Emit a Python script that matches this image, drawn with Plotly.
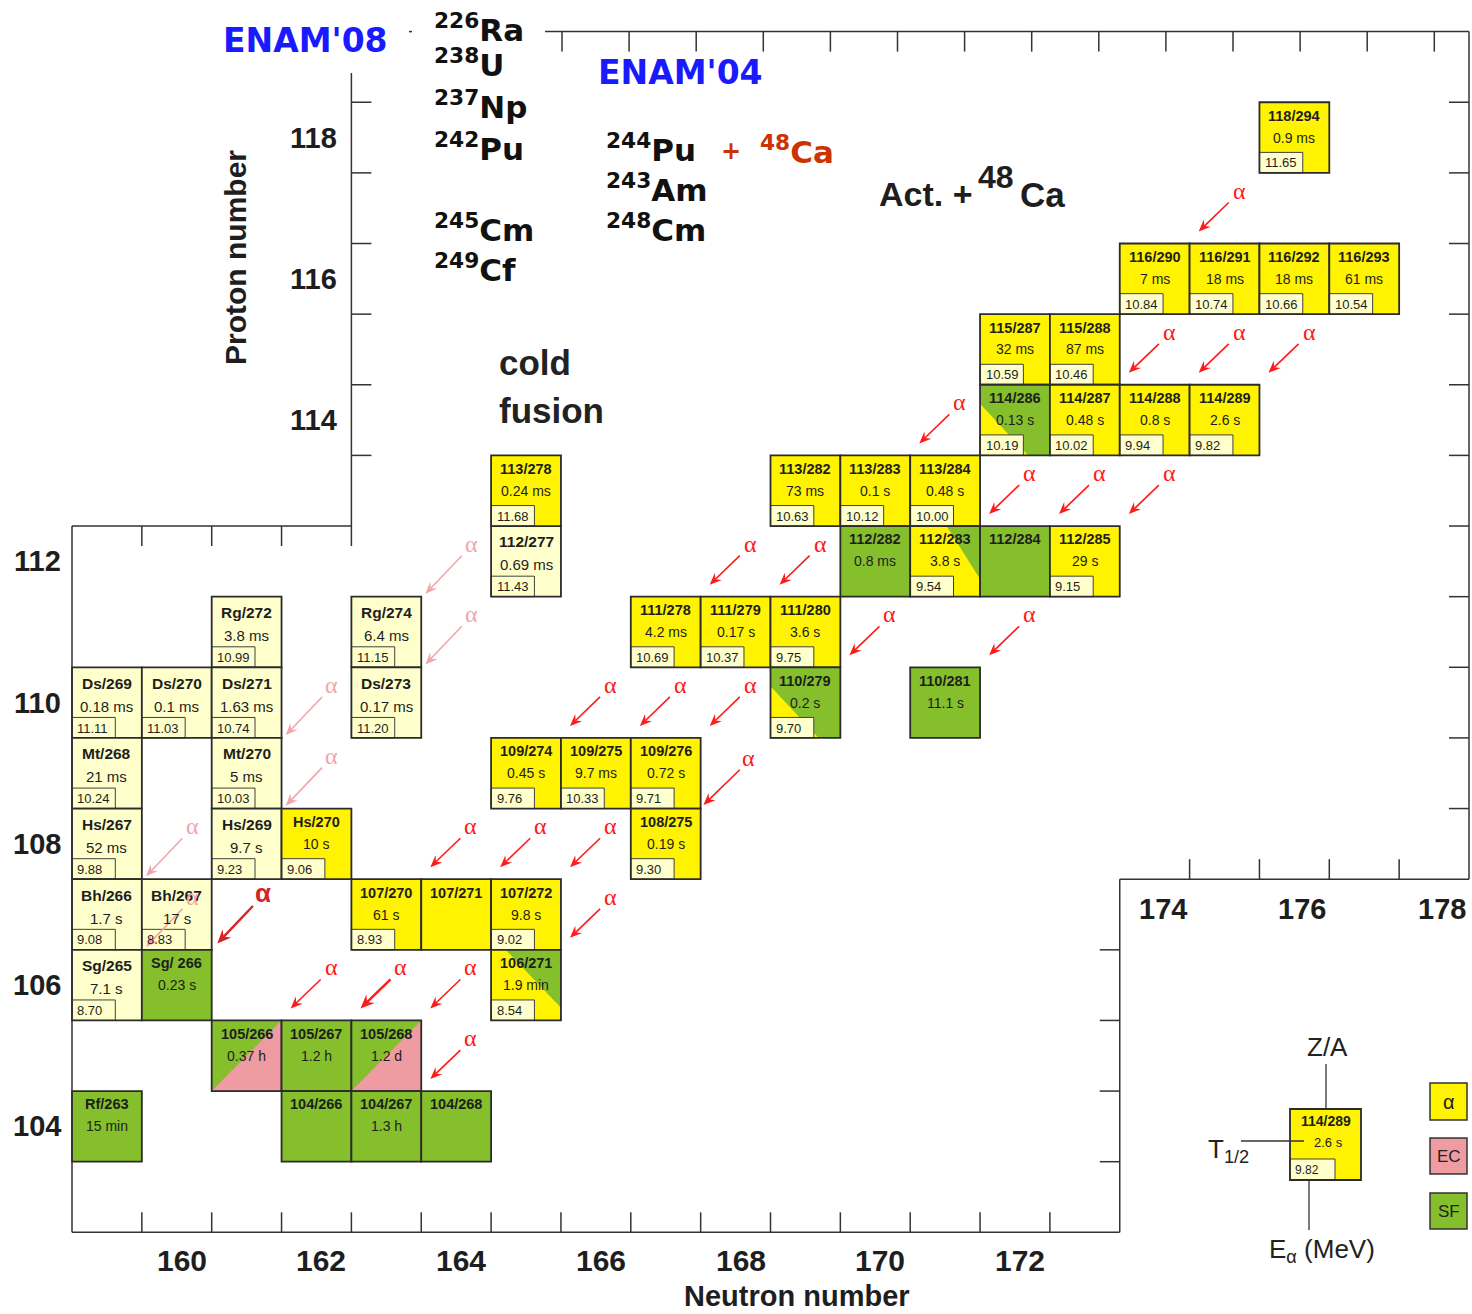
import math
import plotly.graph_objects as go

# ---------------- nuclide cells ----------------
cell_label = [
    "Rg/272", "Rg/274", "Ds/269", "Ds/270", "Ds/271", "Ds/273", "Mt/268", "Mt/270",
    "Hs/267", "Hs/269", "Hs/270", "Bh/266", "Bh/267", "Sg/265", "Sg/ 266", "Rf/263",
    "112/277", "113/278",
    "118/294", "116/290", "116/291", "116/292", "116/293", "115/287", "115/288",
    "114/286", "114/287", "114/288", "114/289", "113/282", "113/283", "113/284",
    "112/282", "112/283", "112/284", "112/285", "111/278", "111/279", "111/280",
    "110/279", "110/281", "109/274", "109/275", "109/276", "108/275",
    "107/270", "107/271", "107/272", "106/271", "105/266", "105/267", "105/268",
    "104/266", "104/267", "104/268",
]
cell_z = [
    111, 111, 110, 110, 110, 110, 109, 109,
    108, 108, 108, 107, 107, 106, 106, 104,
    112, 113,
    118, 116, 116, 116, 116, 115, 115,
    114, 114, 114, 114, 113, 113, 113,
    112, 112, 112, 112, 111, 111, 111,
    110, 110, 109, 109, 109, 108,
    107, 107, 107, 106, 105, 105, 105,
    104, 104, 104,
]
cell_a = [
    272, 274, 269, 270, 271, 273, 268, 270,
    267, 269, 270, 266, 267, 265, 266, 263,
    277, 278,
    294, 290, 291, 292, 293, 287, 288,
    286, 287, 288, 289, 282, 283, 284,
    282, 283, 284, 285, 278, 279, 280,
    279, 281, 274, 275, 276, 275,
    270, 271, 272, 271, 266, 267, 268,
    266, 267, 268,
]
cell_halflife = [
    "3.8 ms", "6.4 ms", "0.18 ms", "0.1 ms", "1.63 ms", "0.17 ms", "21 ms", "5 ms",
    "52 ms", "9.7 s", "10 s", "1.7 s", "17 s", "7.1 s", "0.23 s", "15 min",
    "0.69 ms", "0.24 ms",
    "0.9 ms", "7 ms", "18 ms", "18 ms", "61 ms", "32 ms", "87 ms",
    "0.13 s", "0.48 s", "0.8 s", "2.6 s", "73 ms", "0.1 s", "0.48 s",
    "0.8 ms", "3.8 s", "", "29 s", "4.2 ms", "0.17 s", "3.6 s",
    "0.2 s", "11.1 s", "0.45 s", "9.7 ms", "0.72 s", "0.19 s",
    "61 s", "", "9.8 s", "1.9 min", "0.37 h", "1.2 h", "1.2 d",
    "", "1.3 h", "",
]
cell_ealpha = [
    "10.99", "11.15", "11.11", "11.03", "10.74", "11.20", "10.24", "10.03",
    "9.88", "9.23", "9.06", "9.08", "8.83", "8.70", "", "",
    "11.43", "11.68",
    "11.65", "10.84", "10.74", "10.66", "10.54", "10.59", "10.46",
    "10.19", "10.02", "9.94", "9.82", "10.63", "10.12", "10.00",
    "", "9.54", "", "9.15", "10.69", "10.37", "9.75",
    "9.70", "", "9.76", "10.33", "9.71", "9.30",
    "8.93", "", "9.02", "8.54", "", "", "",
    "", "", "",
]
# decay mode: cf = cold-fusion alpha emitter, a = alpha, sf = fission,
# sf_a / a_sf / a_sf2 = mixed alpha+SF, sf_ec = SF + electron capture
cell_mode = [
    "cf", "cf", "cf", "cf", "cf", "cf", "cf", "cf",
    "cf", "cf", "a", "cf", "cf", "cf", "sf", "sf",
    "cf", "a",
    "a", "a", "a", "a", "a", "a", "a",
    "sf_a", "a", "a", "a", "a", "a", "a",
    "sf", "a_sf", "sf", "a", "a", "a", "a",
    "sf_a", "sf", "a", "a", "a", "a",
    "a", "a", "a", "a_sf2", "sf_ec", "sf", "sf_ec",
    "sf", "sf", "sf",
]

# ---------------- alpha-decay arrows (cell they sit in) ----------------
arrow_n = [175, 174, 175, 176, 171, 172, 173, 174, 168, 169, 170, 172, 166, 167, 168,
           168, 164, 165, 166, 161, 166, 162, 163, 164, 164,
           164, 164, 162, 162, 160, 160]
arrow_z = [117, 115, 115, 115, 114, 113, 113, 113, 112, 112, 111, 111, 110, 110, 110,
           109, 108, 108, 108, 107, 107, 106, 106, 106, 105,
           112, 111, 110, 109, 108, 107]
arrow_kind = ["r"] * 15 + ["rl", "r", "r", "r", "rb", "r", "r", "rt", "r", "r"] + ["p"] * 6

# ---------------- axis tick labels ----------------
n_labels_low = [160, 162, 164, 166, 168, 170, 172]
n_labels_high = [174, 176, 178]
z_labels_low = [104, 106, 108, 110, 112]
z_labels_high = [114, 116, 118]

# ---------------- styling ----------------
W, H = 1472, 1314
SX, SY = 69.85, 70.63           # pixels per unit of N and Z
X0 = 158.5 - 72 / SX
X1 = X0 + W / SX
Y1 = 103.5 + 1161.7 / SY
Y0 = Y1 - H / SY

YELLOW = "#FFF300"
PALE = "#FFFFCC"
GREEN = "#85BF2B"
PINK = "#EE9CA1"
EDGE = "#2B2B2B"
INK = "#1E1E1E"
RED = "#FF1A1A"
ARIAL = "Liberation Sans, Arial, sans-serif"
COMIC = "DejaVu Sans, Verdana, sans-serif"
SERIF = "Liberation Serif, Times New Roman, serif"


def nx(px):
    return X0 + px / SX


def zy(py):
    return Y1 - py / SY


shapes = []
ann = []


def rect(x0, y0, x1, y1, fill=None, lc=EDGE, lw=1.8):
    shapes.append(dict(type="rect", xref="x", yref="y", x0=x0, y0=y0, x1=x1, y1=y1,
                       fillcolor=fill if fill else "rgba(0,0,0,0)",
                       line=dict(color=lc, width=lw), layer="above"))


def poly(pts, fill):
    d = "M " + " L ".join(f"{x},{y}" for x, y in pts) + " Z"
    shapes.append(dict(type="path", xref="x", yref="y", path=d, fillcolor=fill,
                       line=dict(width=0), layer="above"))


def seg(x0, y0, x1, y1, color="#333333", w=1.5):
    shapes.append(dict(type="line", xref="x", yref="y", x0=x0, y0=y0, x1=x1, y1=y1,
                       line=dict(color=color, width=w), layer="above"))


def arrow(tx, ty, hx, hy, color, w, head_len=12.0, head_half=5.0):
    # work in pixel units so the head keeps its shape, then map back to N/Z
    dx, dy = (hx - tx) * SX, (hy - ty) * SY
    length = math.hypot(dx, dy)
    ux, uy = dx / length, dy / length
    px_, py_ = -uy, ux
    bx, by = hx * SX - head_len * ux, hy * SY - head_len * uy
    nxp, nyp = bx + 0.35 * head_len * ux, by + 0.35 * head_len * uy
    pts = [(hx, hy),
           ((bx + head_half * px_) / SX, (by + head_half * py_) / SY),
           (nxp / SX, nyp / SY),
           ((bx - head_half * px_) / SX, (by - head_half * py_) / SY)]
    seg(tx, ty, nxp / SX, nyp / SY, color=color, w=w)
    poly(pts, color)


def text(x, y, s, size, color=INK, family=ARIAL, xanchor="center", yanchor="middle",
         xshift=0, yshift=0, angle=0):
    ann.append(dict(x=x, y=y, xref="x", yref="y", text=s,
                    showarrow=False, xanchor=xanchor, yanchor=yanchor,
                    font=dict(size=size, color=color, family=family),
                    xshift=xshift, yshift=yshift, textangle=angle))


def ptext(px, py, s, size, color=INK, family=ARIAL, xanchor="center", angle=0):
    ann.append(dict(x=px / W, y=1 - py / H, xref="paper", yref="paper", text=s,
                    showarrow=False, xanchor=xanchor, yanchor="middle",
                    font=dict(size=size, color=color, family=family), textangle=angle))


def draw_cell(n, z, label, t, ea, mode):
    base = {"cf": PALE, "a": YELLOW, "sf": GREEN, "sf_a": GREEN,
            "a_sf": YELLOW, "a_sf2": YELLOW, "sf_ec": GREEN}[mode]
    l, r, b, tp = n - 0.5, n + 0.5, z - 0.5, z + 0.5
    rect(l, b, r, tp, fill=base, lw=0)
    if mode == "sf_a":
        poly([(l, b), (l, z + 0.23), (n + 0.19, b)], YELLOW)
    elif mode == "a_sf":
        poly([(n + 0.02, tp), (r, tp), (r, z - 0.25)], GREEN)
    elif mode == "a_sf2":
        poly([(n - 0.29, tp), (r, tp), (r, z - 0.32)], GREEN)
    elif mode == "sf_ec":
        poly([(l, b), (r, b), (r, tp)], PINK)
    if ea:
        rect(l, b, l + 0.62, b + 0.29, fill=PALE, lc="#404040", lw=1)
        text(l + 0.05, b + 0.14, ea, 13, xanchor="left")
    rect(l, b, r, tp, lw=1.8)
    pale = mode == "cf"
    text(n, tp - (0.225 if pale else 0.19), f"<b>{label}</b>", 15.5 if pale else 14.5)
    if t:
        text(n, tp - (0.55 if pale else 0.5), t, 15 if pale else 14)


for lab, z, a, t, ea, m in zip(cell_label, cell_z, cell_a, cell_halflife, cell_ealpha, cell_mode):
    draw_cell(a - z, z, lab, t, ea, m)

# ---------------- alpha arrows ----------------
arrow_style = {
    "r": dict(c=RED, w=1.6, tail=(0.06, 0.08), head=(-0.37, -0.33), lab=(0.21, 0.25), fs=24, fam=SERIF),
    "rt": dict(c=RED, w=2.4, tail=(0.06, 0.08), head=(-0.37, -0.33), lab=(0.21, 0.25), fs=24, fam=SERIF),
    "rl": dict(c=RED, w=1.6, tail=(0.06, 0.05), head=(-0.46, -0.45), lab=(0.19, 0.22), fs=24, fam=SERIF),
    "rb": dict(c="#D42424", w=2.4, tail=(0.09, 0.12), head=(-0.42, -0.41), lab=(0.24, 0.3), fs=26,
               fam=ARIAL, bold=True),
    "p": dict(c="#F3A5AD", w=1.6, tail=(0.08, 0.08), head=(-0.44, -0.46), lab=(0.22, 0.25), fs=24, fam=SERIF),
}
for n, z, k in zip(arrow_n, arrow_z, arrow_kind):
    st = arrow_style[k]
    big = k in ("rb", "rt")
    arrow(n + st["tail"][0], z + st["tail"][1], n + st["head"][0], z + st["head"][1],
          st["c"], st["w"], head_len=14 if big else 12, head_half=6 if big else 5)
    s = "<b>α</b>" if st.get("bold") else "α"
    text(n + st["lab"][0], z + st["lab"][1], s, st["fs"], color=st["c"], family=st["fam"])

# ---------------- frame (stepped axes) ----------------
frame = [(158.5, 112.5), (158.5, 102.5), (173.5, 102.5), (173.5, 107.5), (178.5, 107.5),
         (178.5, 119.5), (nx(545), 119.5)]
for (x0, y0), (x1, y1) in zip(frame[:-1], frame[1:]):
    seg(x0, y0, x1, y1)
seg(158.5, 112.5, 162.5, 112.5)
seg(162.5, 112.5, 162.5, zy(73))
seg(nx(409), 119.5, nx(412), 119.5)

TN, TZ = 20 / SX, 20 / SY
for k in range(14):                       # bottom axis
    seg(159.5 + k, 102.5, 159.5 + k, 102.5 + TZ)
for k in range(4):                        # lower edge of upper-left block
    seg(159.5 + k, 112.5, 159.5 + k, 112.5 - TZ)
for k in range(6):                        # upper-left vertical
    seg(162.5, 113.5 + k, 162.5 + TN, 113.5 + k)
for k in range(4):                        # right step vertical
    seg(173.5, 103.5 + k, 173.5 - TN, 103.5 + k)
for k in range(4):                        # right step horizontal
    seg(174.5 + k, 107.5, 174.5 + k, 107.5 + TZ)
for k in range(11):                       # right vertical
    seg(178.5, 108.5 + k, 178.5 - TN, 108.5 + k)
top_tick = nx(562)
while top_tick < 178.3:                   # top edge
    seg(top_tick, 119.5, top_tick, 119.5 - TZ)
    top_tick += 67.1 / SX

# ---------------- axis labels ----------------
for v in n_labels_low:
    text(v, 102.5, f"<b>{v}</b>", 30, yshift=-28, xshift=5)
for v in n_labels_high:
    text(v, 107.5, f"<b>{v}</b>", 29, yshift=-30, xshift=8)
for v in z_labels_low:
    text(158.5, v, f"<b>{v}</b>", 29, xshift=-35)
for v in z_labels_high:
    text(162.5, v, f"<b>{v}</b>", 29, xshift=-38)
ptext(797, 1296, "<b>Neutron number</b>", 29)
ptext(235, 258, "<b>Proton number</b>", 30, angle=-90)

# ---------------- reaction annotations ----------------
ptext(305, 40, "<b>ENAM'08</b>", 33, color="#1A1AFF", family=COMIC)
ptext(680, 72, "<b>ENAM'04</b>", 33, color="#1A1AFF", family=COMIC)
for py, s in [(28, "<sup>226</sup>Ra"), (63, "<sup>238</sup>U"), (105, "<sup>237</sup>Np"),
              (147, "<sup>242</sup>Pu"), (228, "<sup>245</sup>Cm"), (268, "<sup>249</sup>Cf")]:
    ptext(432, py, f"<b>{s}</b>", 31, color="#111111", family=COMIC, xanchor="left")
for py, s in [(148, "<sup>244</sup>Pu"), (188, "<sup>243</sup>Am"), (228, "<sup>248</sup>Cm")]:
    ptext(604, py, f"<b>{s}</b>", 31, color="#111111", family=COMIC, xanchor="left")
ptext(731, 151, "<b>+</b>", 24, color="#CC3300", family=COMIC)
ptext(758, 150, "<b><sup>48</sup>Ca</b>", 31, color="#CC3300", family=COMIC, xanchor="left")
ptext(877, 194, "<b>Act. +</b>", 34, color="#1E1E1E", xanchor="left")
ptext(976, 177, "<b>48</b>", 32, color="#1E1E1E", xanchor="left")
ptext(1018, 194, "<b>Ca</b>", 35, color="#1E1E1E", xanchor="left")
ptext(497, 362, "<b>cold</b>", 35, color="#222222", xanchor="left")
ptext(497, 410, "<b>fusion</b>", 35, color="#222222", xanchor="left")

# ---------------- key ----------------
kl, kr, kt, kb = nx(1290), nx(1361), zy(1109), zy(1180)
rect(kl, kb, kr, kt, fill=YELLOW, lw=0)
rect(kl, kb, nx(1335), zy(1159), fill=PALE, lc="#404040", lw=1)
rect(kl, kb, kr, kt, lw=1.8)
text((kl + kr) / 2, zy(1121), "<b>114/289</b>", 14)
text(nx(1328), zy(1142), "2.6 s", 13)
text(nx(1293), zy(1170), "9.82", 12, xanchor="left")
seg(nx(1326), zy(1064), nx(1326), kt, color="#333333", w=1.3)
seg(nx(1241), zy(1141), nx(1304), zy(1141), color="#333333", w=1.3)
seg(nx(1309), kb, nx(1309), zy(1230), color="#333333", w=1.3)
ptext(1327, 1047, "Z/A", 26, color="#222222")
ptext(1228, 1150, "T<sub>1/2</sub>", 26, color="#222222")
ptext(1322, 1250, "E<sub>α</sub> (MeV)", 26, color="#222222")
for py0, py1, col, s in [(1083, 1120, YELLOW, "α"), (1138, 1174, PINK, "EC"), (1193, 1229, GREEN, "SF")]:
    rect(nx(1430), zy(py1), nx(1467), zy(py0), fill=col, lc="#333333", lw=1.5)
    ptext(1448.5, (py0 + py1) / 2, s, 17 if s != "α" else 20, color="#222222")

fig = go.Figure()
fig.update_layout(
    width=W, height=H, margin=dict(l=0, r=0, t=0, b=0),
    paper_bgcolor="white", plot_bgcolor="white", showlegend=False,
    xaxis=dict(range=[X0, X1], visible=False, fixedrange=True),
    yaxis=dict(range=[Y0, Y1], visible=False, fixedrange=True),
    shapes=shapes, annotations=ann,
)
fig.write_html("out.html")
